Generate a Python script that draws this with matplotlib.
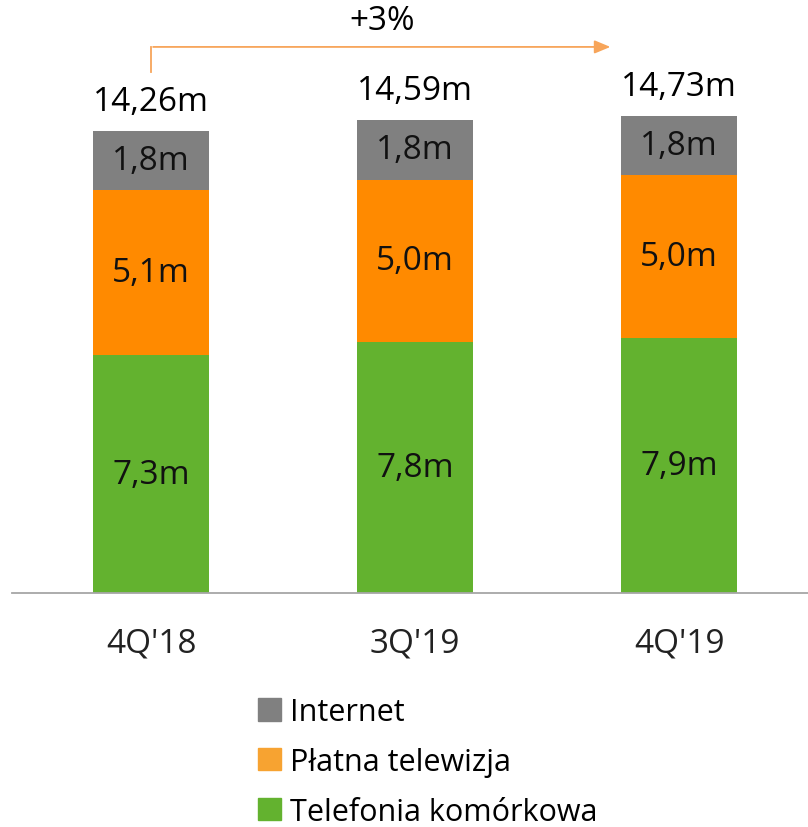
import numpy as np
import matplotlib
matplotlib.use("Agg")
import matplotlib.pyplot as plt
from matplotlib.patches import Patch

plt.rcParams['font.family'] = ['Open Sans', 'DejaVu Sans']

quarters = ["4Q'18", "3Q'19", "4Q'19"]
mobile = [7.30, 7.70, 7.82]
paytv = [5.06, 4.97, 5.00]
internet = [1.81, 1.84, 1.81]
mobile_lbl = ["7,3m", "7,8m", "7,9m"]
paytv_lbl = ["5,1m", "5,0m", "5,0m"]
internet_lbl = ["1,8m", "1,8m", "1,8m"]
total_lbl = ["14,26m", "14,59m", "14,73m"]
growth_lbl = "+3%"

c_green = "#63B22F"
c_orange = "#FF8A00"
c_orange_leg = "#F7A331"
c_gray = "#808080"
c_arrow = "#F7A55A"

fig = plt.figure(figsize=(8.08, 8.28), dpi=100)
ax = fig.add_axes([12 / 808, 234 / 828, 796 / 808, 594 / 828])

x = np.arange(len(quarters))
w = 0.44
mobile = np.array(mobile)
paytv = np.array(paytv)
internet = np.array(internet)

ax.bar(x, mobile, w, color=c_green)
ax.bar(x, paytv, w, bottom=mobile, color=c_orange)
ax.bar(x, internet, w, bottom=mobile + paytv, color=c_gray)

fs = 24
for i in range(len(x)):
    ax.text(x[i], mobile[i] / 2, mobile_lbl[i], ha='center', va='center', fontsize=fs, color='#111111')
    ax.text(x[i], mobile[i] + paytv[i] / 2, paytv_lbl[i], ha='center', va='center', fontsize=fs, color='#111111')
    ax.text(x[i], mobile[i] + paytv[i] + internet[i] / 2, internet_lbl[i], ha='center', va='center',
            fontsize=fs, color='#111111')
    top = mobile[i] + paytv[i] + internet[i]
    ax.text(x[i], top + 0.4, total_lbl[i], ha='center', va='bottom', fontsize=fs, color='#000000')

# growth arrow
y0 = 15.98
y1 = 16.75
ax.plot([x[0], x[0]], [y0, y1], color=c_arrow, lw=1.3)
ax.annotate('', xy=(x[1] + 0.75, y1), xytext=(x[0] - 0.003, y1),
            arrowprops=dict(arrowstyle='-|>,head_length=0.6,head_width=0.25', color=c_arrow, lw=1.3,
                            mutation_scale=16))
ax.text((x[0] + x[1] + 0.75) / 2, y1 + 0.3, growth_lbl, ha='center', va='bottom', fontsize=fs, color='#000000')

ax.set_xlim(-0.527, 2.488)
ax.set_ylim(0, 18.22)
ax.set_xticks(x)
ax.set_xticklabels(quarters, fontsize=fs, color='#222222')
ax.tick_params(axis='x', length=0, pad=24)
ax.set_yticks([])
for s in ['top', 'right', 'left']:
    ax.spines[s].set_visible(False)
ax.spines['bottom'].set_color('#A6A6A6')
ax.spines['bottom'].set_linewidth(1.3)
ax.patch.set_alpha(0)

handles = [Patch(color=c_gray), Patch(color=c_orange_leg), Patch(color=c_green)]
labels = ["Internet", "Płatna telewizja", "Telefonia komórkowa"]
fig.legend(handles, labels, loc='upper left', bbox_to_anchor=(258 / 808, 1 - 698 / 828),
           frameon=False, fontsize=22, handlelength=0.75, handleheight=0.75,
           handletextpad=0.3, labelspacing=0.65, borderpad=0, borderaxespad=0)

fig.savefig("out.png", dpi=100)
